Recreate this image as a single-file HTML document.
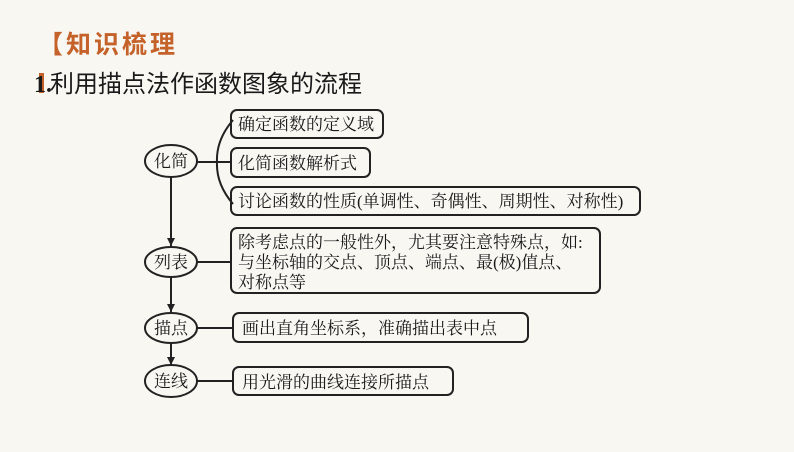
<!DOCTYPE html>
<html><head><meta charset="utf-8"><style>
body{margin:0;width:794px;height:447px;background:#f9f7f2;overflow:hidden}
svg text{font-family:"Liberation Serif","Noto Serif CJK SC","Noto Sans CJK SC",serif;fill:#1a1a1a}
</style></head><body>
<svg width="794" height="447" viewBox="0 0 794 447" xmlns="http://www.w3.org/2000/svg">
<defs><marker id="a" markerWidth="8" markerHeight="8" refX="8" refY="4" orient="auto" markerUnits="userSpaceOnUse"><path d="M0,0 L8,4 L0,8 Z" fill="#222"/></marker></defs>
<text x="38" y="53" font-size="25" font-weight="bold" style="fill:#c4622a;font-family:'Noto Sans CJK SC',sans-serif" letter-spacing="3">【知识梳理</text>
<rect x="39" y="73" width="5" height="20" fill="#c4622a"/>
<text x="34" y="92" font-size="24" font-weight="bold">1.</text>
<text x="50" y="92" font-size="24" style="font-family:'Noto Sans CJK SC',sans-serif">利用描点法作函数图象的流程</text>
<g fill="none" stroke="#222" stroke-width="2">
<ellipse cx="171" cy="161" rx="26" ry="16"/>
<ellipse cx="171" cy="262" rx="26" ry="15"/>
<ellipse cx="171" cy="328" rx="26" ry="15"/>
<ellipse cx="171" cy="381" rx="26" ry="16"/>
<line x1="171" y1="177" x2="171" y2="246" marker-end="url(#a)"/>
<line x1="171" y1="277" x2="171" y2="312" marker-end="url(#a)"/>
<line x1="171" y1="343" x2="171" y2="365" marker-end="url(#a)"/>
<line x1="197" y1="162" x2="231" y2="162"/>
<line x1="197" y1="262" x2="231" y2="262"/>
<line x1="197" y1="328" x2="233" y2="328"/>
<line x1="197" y1="381" x2="233" y2="381"/>
<path d="M233,120 Q216,140 217,162 Q216,184 233,204"/>
<rect x="231" y="110" width="152" height="28" rx="6"/>
<rect x="231" y="148" width="139" height="29" rx="6"/>
<rect x="231" y="187" width="409" height="28" rx="6"/>
<rect x="231" y="228" width="369" height="65" rx="6"/>
<rect x="233" y="313" width="295" height="29" rx="6"/>
<rect x="233" y="367" width="220" height="28" rx="6"/>
</g>
<g font-size="17">
<text x="154" y="167">化简</text>
<text x="154" y="268">列表</text>
<text x="154" y="334">描点</text>
<text x="154" y="387">连线</text>
<text x="238" y="130">确定函数的定义域</text>
<text x="238" y="169">化简函数解析式</text>
<text x="238" y="207">讨论函数的性质(单调性、奇偶性、周期性、对称性)</text>
<text x="238" y="248">除考虑点的一般性外，尤其要注意特殊点，如:</text>
<text x="238" y="268">与坐标轴的交点、顶点、端点、最(极)值点、</text>
<text x="238" y="288">对称点等</text>
<text x="242" y="334">画出直角坐标系，准确描出表中点</text>
<text x="242" y="388">用光滑的曲线连接所描点</text>
</g>
</svg>
</body></html>
